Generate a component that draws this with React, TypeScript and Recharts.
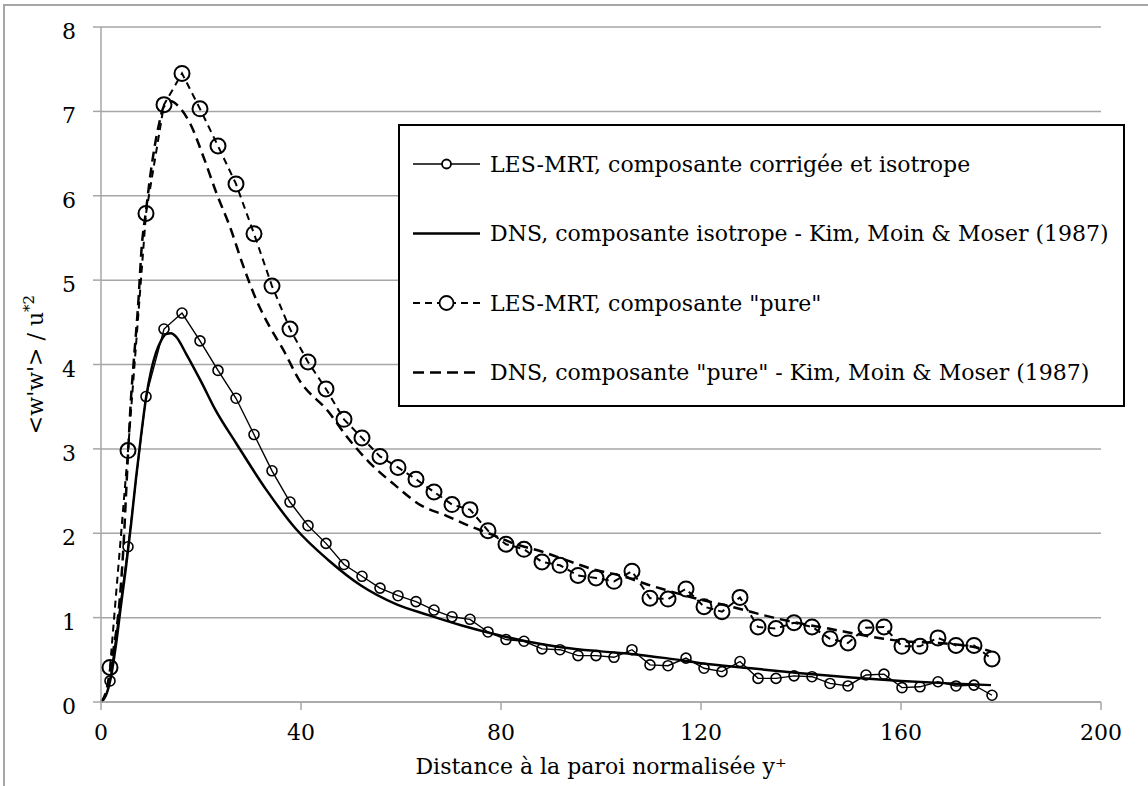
import { LineChart, Line, XAxis, YAxis, CartesianGrid } from 'recharts';

const FONT = '"DejaVu Serif", serif';
const GRID = '#a6a6a6';

// Wall distance of the LES-MRT sample points
const yPlus = [
  1.8, 5.4, 9.0, 12.6, 16.2, 19.8, 23.4, 27.0, 30.6, 34.2,
  37.8, 41.4, 45.0, 48.6, 52.2, 55.8, 59.4, 63.0, 66.6, 70.2,
  73.8, 77.4, 81.0, 84.6, 88.2, 91.8, 95.4, 99.0, 102.6, 106.2,
  109.8, 113.4, 117.0, 120.6, 124.2, 127.8, 131.4, 135.0, 138.6, 142.2,
  145.8, 149.4, 153.0, 156.6, 160.2, 163.8, 167.4, 171.0, 174.6, 178.2,
];

const lesCorrected = [
  0.25, 1.84, 3.62, 4.42, 4.61, 4.28, 3.93, 3.6, 3.17, 2.74,
  2.37, 2.09, 1.88, 1.63, 1.49, 1.35, 1.26, 1.19, 1.09, 1.01,
  0.98, 0.83, 0.74, 0.72, 0.63, 0.62, 0.55, 0.55, 0.53, 0.62,
  0.44, 0.43, 0.52, 0.4, 0.36, 0.48, 0.28, 0.28, 0.31, 0.3,
  0.22, 0.19, 0.32, 0.33, 0.17, 0.18, 0.24, 0.19, 0.2, 0.08,
];

const lesPure = [
  0.41, 2.98, 5.79, 7.08, 7.45, 7.03, 6.59, 6.14, 5.55, 4.93,
  4.42, 4.03, 3.71, 3.35, 3.13, 2.91, 2.78, 2.64, 2.49, 2.34,
  2.28, 2.03, 1.87, 1.81, 1.66, 1.62, 1.5, 1.47, 1.43, 1.55,
  1.23, 1.22, 1.34, 1.13, 1.07, 1.24, 0.89, 0.87, 0.94, 0.89,
  0.75, 0.7, 0.88, 0.89, 0.66, 0.66, 0.76, 0.67, 0.67, 0.51,
];

// Kim, Moin & Moser (1987) profiles
const dnsIsoX = [
  0, 1, 2, 3, 4, 5, 6, 7, 8, 9, 10, 11, 12, 13, 14, 15, 17, 20, 23, 27,
  33, 39, 45.5, 52, 59, 65.5, 72, 79, 85, 92, 100, 106, 113, 120, 130, 140, 150, 160, 170, 178,
];
const dnsIso = [
  0, 0.08, 0.3, 0.68, 1.15, 1.6, 2.1, 2.65, 3.15, 3.6, 3.92, 4.14, 4.28, 4.36, 4.37, 4.33, 4.13, 3.8, 3.45, 3.07,
  2.52, 2.05, 1.68, 1.38, 1.16, 1.03, 0.91, 0.8, 0.72, 0.65, 0.6, 0.57, 0.52, 0.46, 0.4, 0.34, 0.29, 0.25, 0.22, 0.2,
];

const dnsPureX = [
  0, 1, 2, 3, 3.5, 4, 4.5, 5, 5.5, 6, 6.5, 7.5, 8.1, 9, 10, 11.5, 12.6, 14, 15.8, 17.8,
  20.5, 23.1, 25.8, 28.5, 31.1, 33.8, 36.5, 39.5, 45.5, 49.5, 53.5, 58.8, 64, 69, 73.5, 77.5, 83, 88.3, 94.5, 98,
  104.4, 109.4, 112.8, 118.8, 126.7, 130.5, 134.5, 140, 145.5, 149, 156.5, 160.5, 167.5, 175.5, 178,
];
const dnsPure = [
  0, 0.12, 0.45, 0.82, 1.06, 1.4, 1.85, 2.45, 3.05, 3.6, 4.0, 4.77, 5.36, 5.82, 6.3, 6.82, 7.06, 7.12, 7.04, 6.86,
  6.46, 6.03, 5.63, 5.16, 4.76, 4.44, 4.17, 3.83, 3.44, 3.12, 2.85, 2.57, 2.33, 2.21, 2.09, 2.0, 1.87, 1.78, 1.65, 1.58,
  1.49, 1.39, 1.33, 1.23, 1.12, 1.06, 1.0, 0.93, 0.87, 0.83, 0.75, 0.72, 0.7, 0.64, 0.6,
];

const xTicks = [0, 40, 80, 120, 160, 200];
const yTicks = [0, 1, 2, 3, 4, 5, 6, 7, 8];

const LES_CORR = 'LES-MRT, composante corrigée et isotrope';
const DNS_ISO = 'DNS, composante isotrope - Kim, Moin & Moser (1987)';
const LES_PURE = 'LES-MRT, composante "pure"';
const DNS_PURE = 'DNS, composante "pure" - Kim, Moin & Moser (1987)';

const toPoints = (xs: number[], ys: number[]) => xs.map((x, i) => ({ x, y: ys[i] }));

const lesCorrData = toPoints(yPlus, lesCorrected);
const lesPureData = toPoints(yPlus, lesPure);
const dnsIsoData = toPoints(dnsIsoX, dnsIso);
const dnsPureData = toPoints(dnsPureX, dnsPure);

const XTick = ({ x, y, payload }: any) => (
  <text x={x} y={y + 28} textAnchor="middle" fontFamily={FONT} fontSize={22} fill="#000">
    {payload.value}
  </text>
);

const YTick = ({ x, y, payload }: any) => (
  <text x={x} y={y + 12} textAnchor="end" fontFamily={FONT} fontSize={22} fill="#000">
    {payload.value}
  </text>
);

const XTitle = ({ viewBox }: any) => (
  <text
    x={viewBox.x + viewBox.width / 2}
    y={774}
    textAnchor="middle"
    fontFamily={FONT}
    fontSize={22}
    fill="#000"
  >
    Distance à la paroi normalisée y⁺
  </text>
);

const YTitle = ({ viewBox }: any) => {
  const cx = 43;
  const cy = viewBox.y + viewBox.height / 2;
  return (
    <text
      x={cx}
      y={cy}
      transform={`rotate(-90, ${cx}, ${cy})`}
      textAnchor="middle"
      fontFamily={FONT}
      fontSize={22}
      fill="#000"
    >
      {"<w'w'> / u"}
      <tspan fontSize={15} dy={-9}>*2</tspan>
    </text>
  );
};

const legendRows = [
  { label: LES_CORR, width: 1.5, dash: undefined, r: 4.5 },
  { label: DNS_ISO, width: 2.5, dash: undefined, r: 0 },
  { label: LES_PURE, width: 2, dash: '7 5', r: 7 },
  { label: DNS_PURE, width: 2.5, dash: '11 6', r: 0 },
];

function LegendBox() {
  return (
    <div
      style={{
        position: 'absolute',
        left: 398,
        top: 124,
        width: 727,
        height: 283,
        boxSizing: 'border-box',
        border: '2px solid #000',
        background: '#fff',
      }}
    >
      <svg width={723} height={279} style={{ display: 'block' }}>
        {legendRows.map((row, i) => {
          const cy = 38 + i * 69.5;
          return (
            <g key={row.label}>
              <line x1={13} x2={80} y1={cy} y2={cy} stroke="#000" strokeWidth={row.width} strokeDasharray={row.dash} />
              {row.r > 0 && (
                <circle cx={46.5} cy={cy} r={row.r} fill="#fff" stroke="#000" strokeWidth={1.8} />
              )}
              <text x={90} y={cy + 7.5} fontFamily={FONT} fontSize={22} fill="#000">
                {row.label}
              </text>
            </g>
          );
        })}
      </svg>
    </div>
  );
}

export default function App() {
  return (
    <div
      style={{
        position: 'absolute',
        left: 0,
        top: 0,
        width: 1148,
        height: 786,
        overflow: 'hidden',
        background: '#fff',
      }}
    >
      <div
        style={{
          position: 'absolute',
          left: 3,
          top: 4,
          width: 1160,
          height: 800,
          borderLeft: `2px solid ${GRID}`,
          borderTop: `2px solid ${GRID}`,
        }}
      />
      <LineChart width={1148} height={786} margin={{ top: 27, right: 47, bottom: 0, left: 41 }}>
        <CartesianGrid vertical={false} stroke={GRID} strokeWidth={1.5} />
        <XAxis
          type="number"
          dataKey="x"
          domain={[0, 200]}
          ticks={xTicks}
          height={84}
          tickSize={8}
          tickLine={{ stroke: GRID, strokeWidth: 1.5 }}
          axisLine={{ stroke: GRID, strokeWidth: 1.5 }}
          tick={<XTick />}
          label={{ content: XTitle }}
        />
        <YAxis
          type="number"
          domain={[0, 8]}
          ticks={yTicks}
          width={60}
          tickSize={8}
          tickMargin={17}
          tickLine={{ stroke: GRID, strokeWidth: 1.5 }}
          axisLine={{ stroke: GRID, strokeWidth: 1.5 }}
          tick={<YTick />}
          label={{ content: YTitle }}
        />
        <Line
          data={dnsIsoData}
          dataKey="y"
          name={DNS_ISO}
          type="monotone"
          stroke="#000"
          strokeWidth={2.5}
          dot={false}
          activeDot={false}
          isAnimationActive={false}
        />
        <Line
          data={dnsPureData}
          dataKey="y"
          name={DNS_PURE}
          type="monotone"
          stroke="#000"
          strokeWidth={2.5}
          strokeDasharray="10 6"
          dot={false}
          activeDot={false}
          isAnimationActive={false}
        />
        <Line
          data={lesCorrData}
          dataKey="y"
          name={LES_CORR}
          type="linear"
          stroke="#000"
          strokeWidth={1.4}
          dot={{ r: 5, fill: 'none', stroke: '#000', strokeWidth: 1.6 }}
          activeDot={false}
          isAnimationActive={false}
        />
        <Line
          data={lesPureData}
          dataKey="y"
          name={LES_PURE}
          type="linear"
          stroke="#000"
          strokeWidth={2}
          strokeDasharray="7 5"
          dot={{ r: 7.5, fill: 'none', stroke: '#000', strokeWidth: 2, strokeDasharray: 'none' }}
          activeDot={false}
          isAnimationActive={false}
        />
      </LineChart>
      <LegendBox />
    </div>
  );
}
